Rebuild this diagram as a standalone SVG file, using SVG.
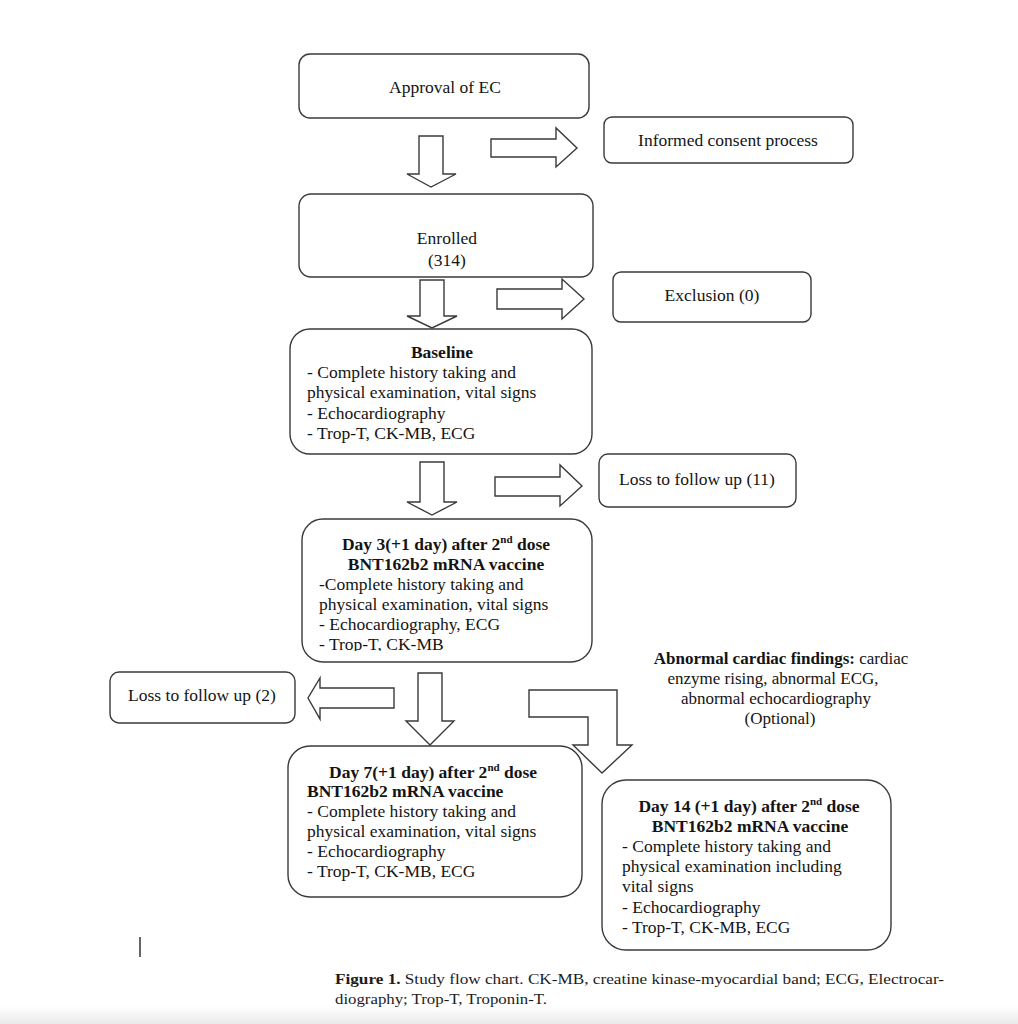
<svg xmlns="http://www.w3.org/2000/svg" width="1018" height="1024" viewBox="0 0 1018 1024">
<defs>
<style>
.box{fill:#fff;stroke:#3a3a3a;stroke-width:1.4}
.arr{fill:#fff;stroke:#3a3a3a;stroke-width:1.4;stroke-linejoin:miter}
text{font-family:"Liberation Serif","Times New Roman",serif;fill:#141414}
.t{font-size:17.5px}
.c{text-anchor:middle}
.b{font-weight:bold}
.sup{font-size:11px;font-weight:bold}
.ab{font-size:17px}
.cap{font-size:15.5px;fill:#1c1c1c}
</style>
<linearGradient id="fade" x1="0" y1="0" x2="0" y2="1">
<stop offset="0" stop-color="#ffffff"/>
<stop offset="1" stop-color="#e9e9e9"/>
</linearGradient>
<clipPath id="clipD3"><rect x="300" y="515" width="300" height="136"/></clipPath>
</defs>
<rect width="1018" height="1024" fill="#fff"/>
<rect x="0" y="1006" width="1018" height="18" fill="url(#fade)"/>

<g id="connectors">
<polygon class="arr" points="419,136 443,136 443,174 456,174 431,187 407,174 419,174"/>
<polygon class="arr" points="491,139 556,139 556,128 577,148 556,167 556,157 491,157"/>
<polygon class="arr" points="420,280 444,280 444,316 457,316 432,328 407,316 420,316"/>
<polygon class="arr" points="497,289 562,289 562,279 584,299 562,319 562,309 497,309"/>
<polygon class="arr" points="420,462 444,462 444,502 457,502 432,515 407,502 420,502"/>
<polygon class="arr" points="495,477 560,477 560,465 582,486 560,506 560,496 495,496"/>
<polygon class="arr" points="394,688 320,688 320,678 308,698 320,719 320,708 394,708"/>
<polygon class="arr" points="418,673 442,673 442,721 454,721 430,745 406,721 418,721"/>
<polygon class="arr" points="529,690 617,690 617,745 632,745 602,773 573,745 588,745 588,717 529,717"/>
</g>

<g id="approval">
<rect class="box" x="299" y="54" width="290" height="64" rx="11"/>
<text class="t c" x="445" y="93">Approval of EC</text>
</g>

<g id="consent">
<rect class="box" x="604" y="117" width="249" height="46" rx="8"/>
<text class="t c" x="728" y="146">Informed consent process</text>
</g>

<g id="enrolled">
<rect class="box" x="299" y="194" width="294" height="83" rx="12"/>
<text class="t c" x="447" y="244">Enrolled</text>
<text class="t c" x="447" y="266">(314)</text>
</g>

<g id="exclusion">
<rect class="box" x="613" y="272" width="198" height="50" rx="8"/>
<text class="t c" x="712" y="301">Exclusion (0)</text>
</g>

<g id="baseline">
<rect class="box" x="290" y="329" width="302" height="125" rx="20"/>
<text class="t c b" x="442" y="358">Baseline</text>
<text class="t" x="307" y="378">- Complete history taking and</text>
<text class="t" x="307" y="398">physical examination, vital signs</text>
<text class="t" x="307" y="419">- Echocardiography</text>
<text class="t" x="307" y="439">- Trop-T, CK-MB, ECG</text>
</g>

<g id="loss11">
<rect class="box" x="599" y="454" width="197" height="53" rx="9"/>
<text class="t c" x="697" y="485">Loss to follow up (11)</text>
</g>

<g id="day3">
<rect class="box" x="302" y="519" width="290" height="143" rx="21"/>
<text class="t c b" x="446" y="550">Day 3(+1 day) after 2<tspan class="sup" dy="-7">nd</tspan><tspan dy="7"> dose</tspan></text>
<text class="t c b" x="446" y="570">BNT162b2 mRNA vaccine</text>
<text class="t" x="319" y="590">-Complete history taking and</text>
<text class="t" x="319" y="610">physical examination, vital signs</text>
<g clip-path="url(#clipD3)">
<text class="t" x="319" y="630">- Echocardiography, ECG</text>
<text class="t" x="319" y="650">- Trop-T, CK-MB</text>
</g>
</g>

<g id="loss2">
<rect class="box" x="110" y="672" width="185" height="51" rx="9"/>
<text class="t c" x="202" y="701">Loss to follow up (2)</text>
</g>

<g id="abnormal">
<text class="ab c" x="781" y="664"><tspan class="b">Abnormal cardiac findings:</tspan> cardiac</text>
<text class="ab c" x="773" y="684">enzyme rising, abnormal ECG,</text>
<text class="ab c" x="776" y="704">abnormal echocardiography</text>
<text class="ab c" x="780" y="724">(Optional)</text>
</g>

<g id="day7">
<rect class="box" x="288" y="746" width="294" height="151" rx="22"/>
<text class="t b" x="329" y="778">Day 7(+1 day) after 2<tspan class="sup" dy="-7">nd</tspan><tspan dy="7"> dose</tspan></text>
<text class="t b" x="307" y="797">BNT162b2 mRNA vaccine</text>
<text class="t" x="307" y="817">- Complete history taking and</text>
<text class="t" x="307" y="837">physical examination, vital signs</text>
<text class="t" x="307" y="857">- Echocardiography</text>
<text class="t" x="307" y="877">- Trop-T, CK-MB, ECG</text>
</g>

<g id="day14">
<rect class="box" x="602" y="780" width="289" height="170" rx="24"/>
<text class="t c b" x="749" y="812">Day 14 (+1 day) after 2<tspan class="sup" dy="-7">nd</tspan><tspan dy="7"> dose</tspan></text>
<text class="t c b" x="750" y="832">BNT162b2 mRNA vaccine</text>
<text class="t" x="622" y="852">- Complete history taking and</text>
<text class="t" x="622" y="872">physical examination including</text>
<text class="t" x="622" y="892">vital signs</text>
<text class="t" x="622" y="913">- Echocardiography</text>
<text class="t" x="622" y="933">- Trop-T, CK-MB, ECG</text>
</g>

<line x1="140" y1="937" x2="140" y2="957" stroke="#333" stroke-width="1.5"/>

<g id="caption">
<text class="cap" x="335" y="984" textLength="609" lengthAdjust="spacingAndGlyphs"><tspan class="b">Figure 1.</tspan> Study flow chart. CK-MB, creatine kinase-myocardial band; ECG, Electrocar-</text>
<text class="cap" x="335" y="1004" textLength="212" lengthAdjust="spacingAndGlyphs">diography; Trop-T, Troponin-T.</text>
</g>
</svg>
